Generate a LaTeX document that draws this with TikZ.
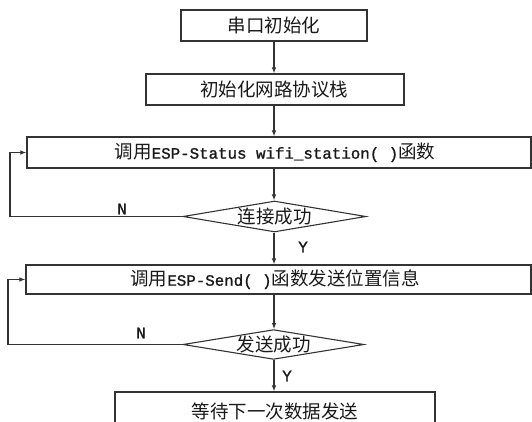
\documentclass[tikz,border=0pt]{standalone}
\usepackage{fontspec}
\newfontfamily\cjkfont{Noto Sans CJK SC}
\newfontfamily\latfont[FakeBold=1.2]{Liberation Mono}
\usetikzlibrary{shapes.geometric,arrows.meta}
\newcommand{\lat}[1]{{\latfont\fontsize{15.8}{18}\selectfont #1}}
\begin{document}
\begin{tikzpicture}[x=1pt,y=-1pt,
  lin/.style={draw=black!80, line width=1.1pt},
  arr/.style={lin, -{Latex[length=6pt,width=4.5pt]}},
  txt/.style={font=\cjkfont\fontsize{18.5}{20}\selectfont, text=black!90, inner sep=0pt},
  boxn/.style={lin, rectangle, inner sep=0pt},
  decn/.style={lin, diamond, aspect=5.9, inner sep=0pt, minimum width=183pt, minimum height=31pt, font=\cjkfont\fontsize{18.5}{20}\selectfont, text=black!90},
  lbl/.style={font=\latfont\fontsize{16}{18}\selectfont, text=black!90, inner sep=0pt}
]
\useasboundingbox (0,0) rectangle (532,422);
% boxes
\node[boxn, minimum width=186pt, minimum height=31pt] (b1) at (274,25.5) {};
\node[txt] (t1) at (274,25.5) {串口初始化};
\node[boxn, minimum width=258pt, minimum height=31pt] (b2) at (275,89.5) {};
\node[txt] (t2) at (274,89.5) {初始化网路协议栈};
\node[boxn, minimum width=504pt, minimum height=31pt] (b3) at (279,152.5) {};
\node[txt] (t3) at (275,152.5) {调用\lat{ESP-Status wifi\_station( )}函数};
\node[decn] (d1) at (274.5,216.5) {连接成功};
\node[boxn, minimum width=505pt, minimum height=29pt] (b4) at (278.5,279.5) {};
\node[txt] (t4) at (275,279.5) {调用\lat{ESP-Send( )}函数发送位置信息};
\node[decn, minimum width=181pt, minimum height=28pt] (d2) at (273.5,344.5) {发送成功};
\node[boxn, minimum width=320pt, minimum height=40pt] (b5) at (275,412) {};
\node[txt] (t5) at (275,411) {等待下一次数据发送};
% loop corner coordinates
\coordinate (l1) at (10,0);
\coordinate (l2) at (8,0);
\coordinate (ax) at (274,0);
% straight arrows
\draw[arr] (b1.south -| ax) -- (b2.north -| ax);
\draw[arr] (b2.south -| ax) -- (b3.north -| ax);
\draw[arr] (b3.south -| ax) -- (d1.north -| ax);
\draw[arr] (d1.south -| ax) -- (b4.north -| ax);
\draw[arr] (b4.south -| ax) -- (d2.north -| ax);
\draw[arr] (d2.south -| ax) -- (b5.north -| ax);
% loops
\draw[arr] (d1.west) -- (d1.west -| l1) |- (b3.west);
\draw[arr] (d2.west) -- (d2.west -| l2) |- (b4.west);
% labels
\node[lbl] (n1) at (122,209) {N};
\node[lbl] (y1) at (303,247) {Y};
\node[lbl] (n2) at (141,333) {N};
\node[lbl] (y2) at (287,376) {Y};
\end{tikzpicture}
\end{document}
